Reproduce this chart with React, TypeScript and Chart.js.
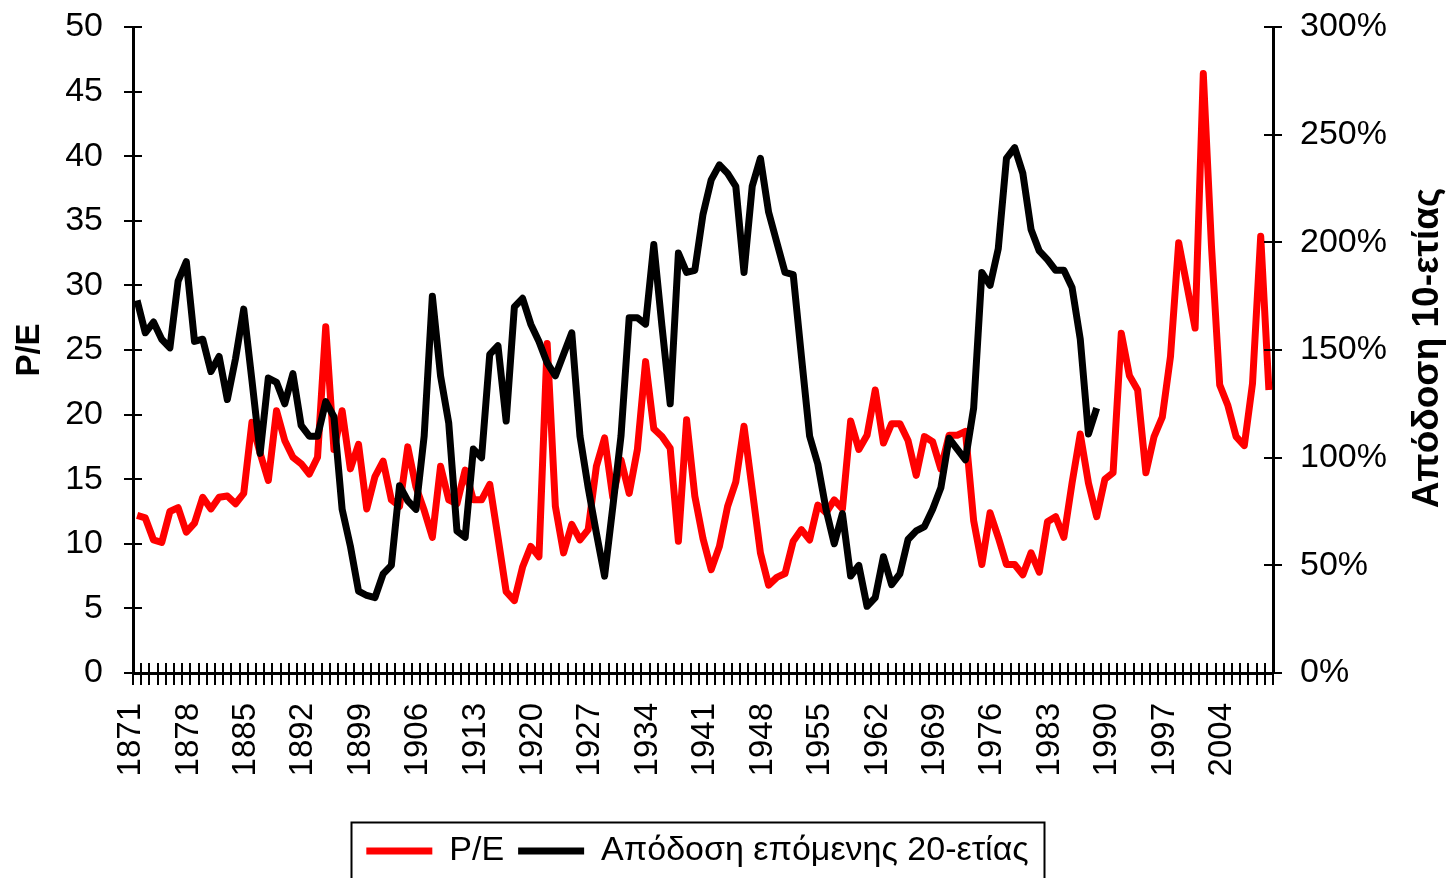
import React, { useEffect, useRef } from 'react';
import { Chart, registerables } from 'chart.js';

Chart.register(...registerables);

const FIRST_YEAR = 1871;
const LAST_YEAR = 2009;
const years: string[] = Array.from({ length: LAST_YEAR - FIRST_YEAR + 1 }, (_, i) => String(FIRST_YEAR + i));

const tickYears: string[] = ['1871', '1878', '1885', '1892', '1899', '1906', '1913', '1920', '1927', '1934', '1941', '1948', '1955', '1962', '1969', '1976', '1983', '1990', '1997', '2004'];

// P/E, 1871-2009
const peValues: number[] = [
  12.2, 12.0, 10.3, 10.1, 12.5, 12.8, 10.9, 11.6, 13.6, 12.7,
  13.6, 13.7, 13.1, 13.9, 19.4, 17.0, 14.9, 20.3, 18.0, 16.7,
  16.2, 15.4, 16.7, 26.8, 17.3, 20.3, 15.8, 17.7, 12.7, 15.2,
  16.4, 13.4, 12.9, 17.5, 14.4, 12.6, 10.5, 16.0, 13.4, 13.1,
  15.7, 13.4, 13.4, 14.6, 10.5, 6.3, 5.6, 8.2, 9.8, 9.0,
  25.5, 12.9, 9.3, 11.5, 10.3, 11.1, 16.0, 18.2, 13.6, 16.5,
  13.9, 17.3, 24.1, 18.9, 18.3, 17.4, 10.2, 19.6, 13.7, 10.4,
  8.0, 9.8, 12.9, 14.8, 19.1, 14.2, 9.3, 6.8, 7.4, 7.7,
  10.2, 11.1, 10.3, 13.0, 12.4, 13.4, 12.7, 19.5, 17.3, 18.4,
  21.9, 17.8, 19.3, 19.3, 18.0, 15.3, 18.3, 17.9, 15.8, 18.4,
  18.4, 18.7, 11.8, 8.4, 12.4, 10.5, 8.4, 8.4, 7.6, 9.3,
  7.8, 11.7, 12.1, 10.5, 14.7, 18.5, 14.7, 12.1, 15.0, 15.5,
  26.3, 23.0, 21.9, 15.5, 18.3, 19.8, 24.5, 33.3, 30.0, 26.7,
  46.4, 33.0, 22.3, 20.7, 18.3, 17.6, 22.4, 33.8, 21.9,
];

// Return of the next 20 years (%), 1871-1988
const returnValues: number[] = [
  173, 158, 163, 155, 151, 182, 191, 154, 155, 140,
  147, 127, 146, 169, 136, 102, 137, 135, 125, 139,
  115, 110, 110, 126, 119, 76, 59, 38, 36, 35,
  46, 50, 87, 80, 76, 110, 175, 138, 116, 66,
  63, 104, 100, 148, 152, 117, 170, 174, 162, 154,
  144, 138, 148, 158, 110, 86, 65, 45, 77, 110,
  165, 165, 162, 199, 161, 125, 195, 186, 187, 213,
  229, 236, 232, 226, 186, 226, 239, 214, 200, 186,
  185, 147, 110, 97, 76, 60, 74, 45, 50, 31,
  35, 54, 41, 46, 62, 66, 68, 76, 86, 109,
  104, 99, 123, 186, 180, 197, 239, 244, 232, 206,
  196, 192, 187, 187, 179, 155, 111, 123,
];

const peLabel = 'P/E';
const returnLabel = 'Απόδοση επόμενης 20-ετίας';
const leftTitle = 'P/E';
const rightTitle = 'Απόδοση 10-ετίας';

const FONT = '"Liberation Sans", Arial, sans-serif';

const extrasPlugin = {
  id: 'extras',
  afterDraw(chart: any) {
    const ctx = chart.ctx as CanvasRenderingContext2D;
    const { left, right, top, bottom } = chart.chartArea;
    const xs = chart.scales.x;
    const yl = chart.scales.y;
    const yr = chart.scales.y1;
    ctx.save();
    ctx.strokeStyle = '#000';
    ctx.lineWidth = 2;
    ctx.beginPath();
    const n = chart.data.labels.length;
    for (let i = 0; i <= n; i++) {
      const px = Math.round(xs.getPixelForValue(i - 0.5));
      ctx.moveTo(px, bottom);
      ctx.lineTo(px, bottom - 10);
    }
    yl.ticks.forEach((t: any) => {
      const py = Math.round(yl.getPixelForValue(t.value));
      ctx.moveTo(left, py);
      ctx.lineTo(left + 9, py);
    });
    yr.ticks.forEach((t: any) => {
      const py = Math.round(yr.getPixelForValue(t.value));
      ctx.moveTo(right - 9, py);
      ctx.lineTo(right, py);
    });
    ctx.stroke();

    // right axis title, reading bottom to top
    ctx.save();
    ctx.translate(yr.right + 33, (top + bottom) / 2 - 2);
    ctx.rotate(-Math.PI / 2);
    ctx.font = `bold 37px ${FONT}`;
    ctx.fillStyle = '#000';
    ctx.textAlign = 'center';
    ctx.textBaseline = 'middle';
    ctx.fillText(rightTitle, 0, 0);
    ctx.restore();

    // legend frame
    const lg = chart.legend;
    if (lg && lg.lineWidths) {
      const pad = lg.options.labels.padding;
      const lw = lg.lineWidths[0];
      const x0 = (lg.left + pad + lg.right - lw) / 2;
      const x1 = x0 + lw - pad;
      ctx.lineWidth = 2;
      ctx.strokeRect(Math.round(x0 - 15) + 0.5, Math.round(lg.top + 2) + 0.5, Math.round(x1 - x0 + 31), 200);
    }
    ctx.restore();
  },
};

export default function App() {
  const ref = useRef<HTMLCanvasElement>(null);
  useEffect(() => {
    const canvas = ref.current;
    if (!canvas) return;
    Chart.defaults.font.family = FONT;
    Chart.defaults.color = '#000';
    const chart = new Chart(canvas, {
      type: 'line',
      data: {
        labels: years,
        datasets: [
          {
            label: peLabel,
            data: peValues,
            borderColor: '#ff0000',
            backgroundColor: '#ff0000',
            borderWidth: 7,
            pointRadius: 0,
            tension: 0,
            borderJoinStyle: 'round',
            yAxisID: 'y',
            order: 1,
          },
          {
            label: returnLabel,
            data: returnValues,
            borderColor: '#000000',
            backgroundColor: '#000000',
            borderWidth: 7,
            pointRadius: 0,
            tension: 0,
            borderJoinStyle: 'round',
            yAxisID: 'y1',
            order: 0,
          },
        ],
      },
      options: {
        responsive: true,
        maintainAspectRatio: false,
        animation: false,
        events: [],
        layout: { padding: { top: 27, right: 52, left: 0, bottom: 0 } },
        plugins: {
          tooltip: { enabled: false },
          legend: {
            display: true,
            position: 'bottom',
            labels: {
              font: { size: 34, family: FONT },
              color: '#000',
              usePointStyle: true,
              pointStyle: 'line',
              pointStyleWidth: 66,
              padding: 14,
              sort: (a: any, b: any) => a.datasetIndex - b.datasetIndex,
            },
          },
        },
        scales: {
          x: {
            type: 'category',
            offset: true,
            grid: {
              offset: true,
              drawOnChartArea: false,
              drawTicks: true,
              tickLength: 12,
              color: '#000',
              lineWidth: 2,
            },
            border: { display: true, color: '#000', width: 3 },
            ticks: {
              autoSkip: false,
              minRotation: 90,
              maxRotation: 90,
              padding: 18,
              labelOffset: -6,
              font: { size: 33, family: FONT },
              color: '#000',
              callback: function (this: any, _v: any, index: number) {
                const y = years[index];
                return tickYears.includes(y) ? y : '';
              },
            },
            afterFit: (s: any) => {
              const lh = s.chart.legend ? s.chart.legend.height : 0;
              s.height = s.chart.height - 673 - lh;
            },
          },
          y: {
            type: 'linear',
            position: 'left',
            min: 0,
            max: 50,
            grid: {
              drawOnChartArea: false,
              drawTicks: true,
              tickLength: 9,
              color: '#000',
              lineWidth: 2,
            },
            border: { display: true, color: '#000', width: 3 },
            ticks: {
              stepSize: 5,
              padding: 21,
              font: { size: 34, family: FONT },
              color: '#000',
            },
            title: {
              display: true,
              text: leftTitle,
              font: { size: 33, weight: 'bold', family: FONT },
              color: '#000',
              padding: { top: 10, bottom: 0 },
            },
            afterFit: (s: any) => {
              s.width = 133;
              s.paddingTop = 0;
              s.paddingBottom = 0;
            },
          },
          y1: {
            type: 'linear',
            position: 'right',
            min: 0,
            max: 300,
            grid: {
              drawOnChartArea: false,
              drawTicks: true,
              tickLength: 9,
              color: '#000',
              lineWidth: 2,
            },
            border: { display: true, color: '#000', width: 3 },
            ticks: {
              stepSize: 50,
              padding: 18,
              font: { size: 34, family: FONT },
              color: '#000',
              callback: (v: any) => `${v}%`,
            },
            afterFit: (s: any) => {
              s.width = 122;
              s.paddingTop = 0;
              s.paddingBottom = 0;
            },
          },
        },
      },
      plugins: [extrasPlugin],
    } as any);
    return () => chart.destroy();
  }, []);

  return (
    <div style={{ position: 'fixed', left: 0, top: 0, width: 1447, height: 878, background: '#fff', overflow: 'hidden' }}>
      <canvas ref={ref} style={{ display: 'block' }} />
    </div>
  );
}
